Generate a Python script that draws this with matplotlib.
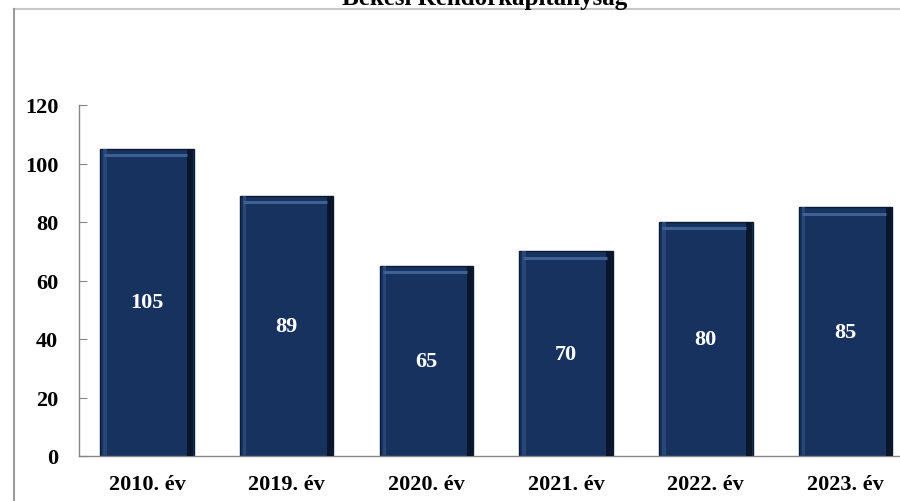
import matplotlib.pyplot as plt
from matplotlib.lines import Line2D
import numpy as np

categories = ['2010. év', '2019. év', '2020. év', '2021. év', '2022. év', '2023. év']
values = [105, 89, 65, 70, 80, 85]
title = 'Békési Rendőrkapitányság'

plt.rcParams['font.family'] = ['Liberation Serif', 'DejaVu Serif']
plt.rcParams['font.weight'] = 'bold'

W, H = 900, 502
fig = plt.figure(figsize=(W / 100, H / 100), dpi=100)
ax = fig.add_axes([79 / W, 1 - 457 / H, 1 - 79 / W, (457 - 106) / H])

x = np.arange(len(categories))
vals = np.array(values)

# main bars plus some simple edge shading to look like the excel 3d-ish style
ax.bar(x, vals, width=0.67, color='#17325e', edgecolor='#0c1a36', linewidth=1.0, zorder=2)
ax.bar(x + 0.31, vals, width=0.045, color='#0a162c', zorder=3)
ax.bar(x - 0.30, vals, width=0.025, color='#284676', zorder=3)
ax.hlines(vals - 2.2, x - 0.31, x + 0.29, color='#3f6192', linewidth=2.2, zorder=4)

for xi, v in zip(x, vals):
    ax.text(xi, v / 2, str(v), ha='center', va='center', color='white',
            fontsize=16, fontweight='bold', zorder=5)

ax.set_xlim(-0.486, 5.39)
ax.set_ylim(0, 120)
ax.set_yticks(range(0, 121, 20))
ax.set_xticks(x)
ax.set_xticklabels(categories)

for s in ['top', 'right']:
    ax.spines[s].set_visible(False)
for s in ['left', 'bottom']:
    ax.spines[s].set_color('#868686')
    ax.spines[s].set_linewidth(1)

ax.tick_params(axis='y', direction='in', length=6, color='#868686', labelsize=16, pad=15)
ax.tick_params(axis='x', length=0, labelsize=16, pad=13)

# outer chart frame, cropped at right and bottom
fig.add_artist(Line2D([14 / W, 1], [1 - 10 / H, 1 - 10 / H], color='#c8c8c8', linewidth=1.5))
fig.add_artist(Line2D([14 / W, 14 / W], [0, 1 - 10 / H], color='#9a9a9a', linewidth=1.5))

fig.text(485 / W, 1 - 5 / H, title, ha='center', va='baseline', fontsize=18, fontweight='bold')

fig.savefig('out.png', dpi=100)
